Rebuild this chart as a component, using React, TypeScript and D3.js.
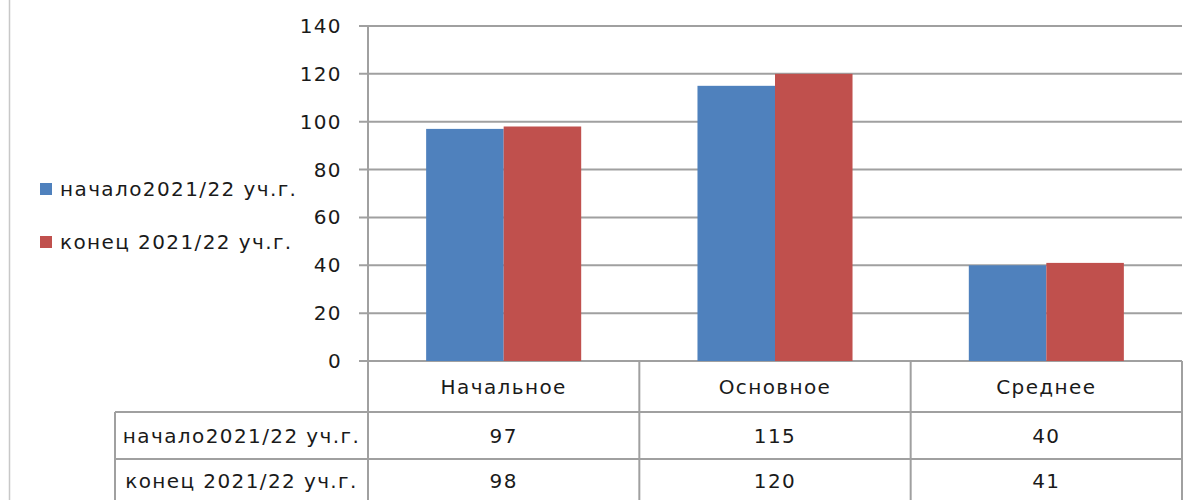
import React, { useEffect } from 'react';
import * as d3 from 'd3';

const categories = ['Начальное', 'Основное', 'Среднее'];
const seriesNames = ['начало2021/22 уч.г.', 'конец 2021/22 уч.г.'];
const startValues = [97, 115, 40];
const endValues = [98, 120, 41];
const seriesColors = ['#4F81BD', '#C0504D'];
const yTicks = [0, 20, 40, 60, 80, 100, 120, 140];

const FONT = '"DejaVu Sans", Verdana, sans-serif';

const App: React.FC = () => {
  useEffect(() => {
    document.body.style.margin = '0';
  }, []);

  const width = 1200;
  const height = 500;
  const plot = { left: 368, right: 1182, top: 26, bottom: 361 };
  const rowTop = [361, 412, 459, 506];
  const labelLeft = 115;
  const gridColor = '#a0a0a0';

  const y = d3.scaleLinear().domain([0, 140]).range([plot.bottom, plot.top]);
  const x0 = d3.scaleBand<string>().domain(categories).range([plot.left, plot.right]);
  const x1 = d3
    .scaleBand<string>()
    .domain(seriesNames)
    .range([0, x0.bandwidth()])
    .paddingInner(0)
    .paddingOuter(0.75);

  const values = [startValues, endValues];

  const textStyle: React.CSSProperties = {
    fontFamily: FONT,
    fontSize: 20,
    letterSpacing: 1.4,
    fill: '#1a1a1a',
  };

  return (
    <svg width={width} height={height} style={{ display: 'block', background: '#fff' }}>
      {/* chart area border */}
      <line x1={9.5} x2={9.5} y1={0} y2={height} stroke="#c8c8c8" strokeWidth={1.5} />

      {/* gridlines + ticks */}
      {yTicks.map(t => (
        <g key={t}>
          <line x1={359} x2={plot.right} y1={y(t)} y2={y(t)} stroke={gridColor} strokeWidth={2} />
          <text
            x={342}
            y={y(t)}
            textAnchor="end"
            dominantBaseline="central"
            style={textStyle}
          >
            {t}
          </text>
        </g>
      ))}

      {/* bars */}
      {categories.map((c, i) => (
        <g key={c} transform={`translate(${x0(c)},0)`}>
          {seriesNames.map((s, j) => (
            <rect
              key={s}
              x={x1(s)}
              y={y(values[j][i])}
              width={x1.bandwidth()}
              height={y(0) - y(values[j][i])}
              fill={seriesColors[j]}
            />
          ))}
        </g>
      ))}

      {/* y axis */}
      <line x1={plot.left} x2={plot.left} y1={plot.top} y2={height} stroke={gridColor} strokeWidth={2} />

      {/* data table */}
      {rowTop.slice(1).map(ry => (
        <line key={ry} x1={labelLeft} x2={plot.right} y1={ry} y2={ry} stroke={gridColor} strokeWidth={2} />
      ))}
      <line x1={plot.right} x2={plot.right} y1={plot.bottom} y2={height} stroke={gridColor} strokeWidth={2} />
      <line x1={labelLeft} x2={labelLeft} y1={rowTop[1]} y2={height} stroke={gridColor} strokeWidth={2} />
      {categories.map((c, i) =>
        i > 0 ? (
          <line
            key={c}
            x1={x0(c)}
            x2={x0(c)}
            y1={plot.bottom}
            y2={height}
            stroke={gridColor}
            strokeWidth={2}
          />
        ) : null
      )}
      {categories.map(c => (
        <text
          key={c}
          x={(x0(c) ?? 0) + x0.bandwidth() / 2}
          y={(rowTop[0] + rowTop[1]) / 2}
          textAnchor="middle"
          dominantBaseline="central"
          style={textStyle}
        >
          {c}
        </text>
      ))}
      {seriesNames.map((s, j) => (
        <g key={s}>
          <text
            x={(labelLeft + plot.left) / 2}
            y={(rowTop[j + 1] + rowTop[j + 2]) / 2 - (j === 1 ? 2 : 0)}
            textAnchor="middle"
            dominantBaseline="central"
            style={textStyle}
          >
            {s}
          </text>
          {categories.map((c, i) => (
            <text
              key={c}
              x={(x0(c) ?? 0) + x0.bandwidth() / 2}
              y={(rowTop[j + 1] + rowTop[j + 2]) / 2 - (j === 1 ? 2 : 0)}
              textAnchor="middle"
              dominantBaseline="central"
              style={textStyle}
            >
              {values[j][i]}
            </text>
          ))}
        </g>
      ))}

      {/* legend */}
      {seriesNames.map((s, j) => (
        <g key={s} transform={`translate(40,${189 + j * 53})`}>
          <rect x={0} y={-6} width={12} height={12} fill={seriesColors[j]} />
          <text x={20} y={0} dominantBaseline="central" style={textStyle}>
            {s}
          </text>
        </g>
      ))}
    </svg>
  );
};

export default App;
